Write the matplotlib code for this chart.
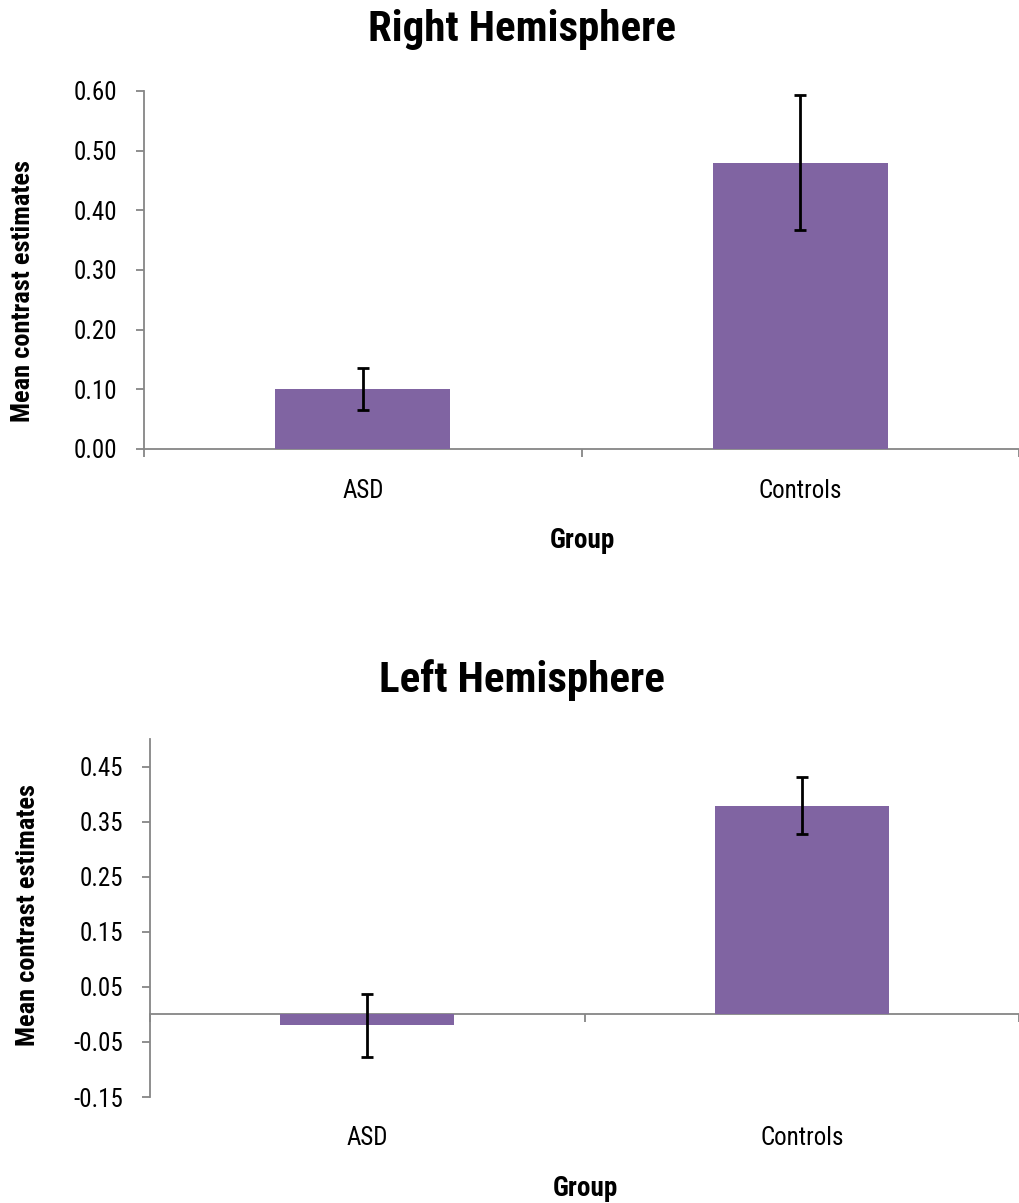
import numpy as np
import matplotlib
matplotlib.use("Agg")
import matplotlib.pyplot as plt
from matplotlib.ticker import FormatStrFormatter

plt.rcParams['font.family'] = ['Roboto Condensed', 'Liberation Sans', 'DejaVu Sans']

groups = ['ASD', 'Controls']

# right hemisphere
right_means = [0.100, 0.480]
right_err = [0.035, 0.113]
right_yticks = [0.0, 0.1, 0.2, 0.3, 0.4, 0.5, 0.6]

# left hemisphere
left_means = [-0.020, 0.379]
left_err = [0.057, 0.052]
left_yticks = [-0.15, -0.05, 0.05, 0.15, 0.25, 0.35, 0.45]

bar_color = '#8064A2'
axis_gray = '#868686'

fig = plt.figure(figsize=(10.2, 12.03), dpi=100)

def draw_panel(ax, means, err, yticks, ylim, label_pad, zero_spine):
    x = np.arange(len(groups))
    ax.bar(x, means, width=0.4, color=bar_color, zorder=2)
    ax.errorbar(x, means, yerr=err, fmt='none', ecolor='black',
                elinewidth=2, capsize=4.3, capthick=2, zorder=3)
    ax.set_xlim(-0.5, len(groups) - 0.5)
    ax.set_ylim(*ylim)
    ax.set_yticks(yticks)
    ax.yaxis.set_major_formatter(FormatStrFormatter('%.2f'))
    ax.set_xticks(x)
    ax.set_xticklabels(groups)
    ax.set_xticks(np.arange(len(groups) + 1) - 0.5, minor=True)
    for s in ['top', 'right']:
        ax.spines[s].set_visible(False)
    for s in ['left', 'bottom']:
        ax.spines[s].set_color(axis_gray)
        ax.spines[s].set_linewidth(1.3)
        ax.spines[s].set_zorder(1)
    if zero_spine:
        ax.spines['bottom'].set_position(('data', 0))
    ax.tick_params(axis='y', direction='out', length=5.8, width=1.3,
                   color=axis_gray, labelsize=18, pad=13.5)
    ax.tick_params(axis='x', which='major', length=0, labelsize=18, pad=label_pad)
    ax.tick_params(axis='x', which='minor', direction='out', length=5.8,
                   width=1.3, color=axis_gray)

ax1 = fig.add_axes([0.1412, 0.6268, 0.858, 0.2976])
draw_panel(ax1, right_means, right_err, right_yticks, (0, 0.6), 21.6, False)

ax2 = fig.add_axes([0.1471, 0.0881, 0.852, 0.2976])
draw_panel(ax2, left_means, left_err, left_yticks, (-0.15, 0.5), 80.6, True)

fig.text(522 / 1020, 1 - 30 / 1203, 'Right Hemisphere', ha='center', va='center',
         fontsize=31, fontweight='bold')
fig.text(522 / 1020, 1 - 680 / 1203, 'Left Hemisphere', ha='center', va='center',
         fontsize=31, fontweight='bold')

fig.text(23 / 1020, 1 - 291 / 1203, 'Mean contrast estimates', rotation=90,
         ha='center', va='center', fontsize=19, fontweight='bold')
fig.text(28 / 1020, 1 - 915 / 1203, 'Mean contrast estimates', rotation=90,
         ha='center', va='center', fontsize=19, fontweight='bold')

fig.text(582 / 1020, 1 - 541 / 1203, 'Group', ha='center', va='center',
         fontsize=19.5, fontweight='bold')
fig.text(585 / 1020, 1 - 1188 / 1203, 'Group', ha='center', va='center',
         fontsize=19.5, fontweight='bold')

fig.savefig('out.png', dpi=100)
